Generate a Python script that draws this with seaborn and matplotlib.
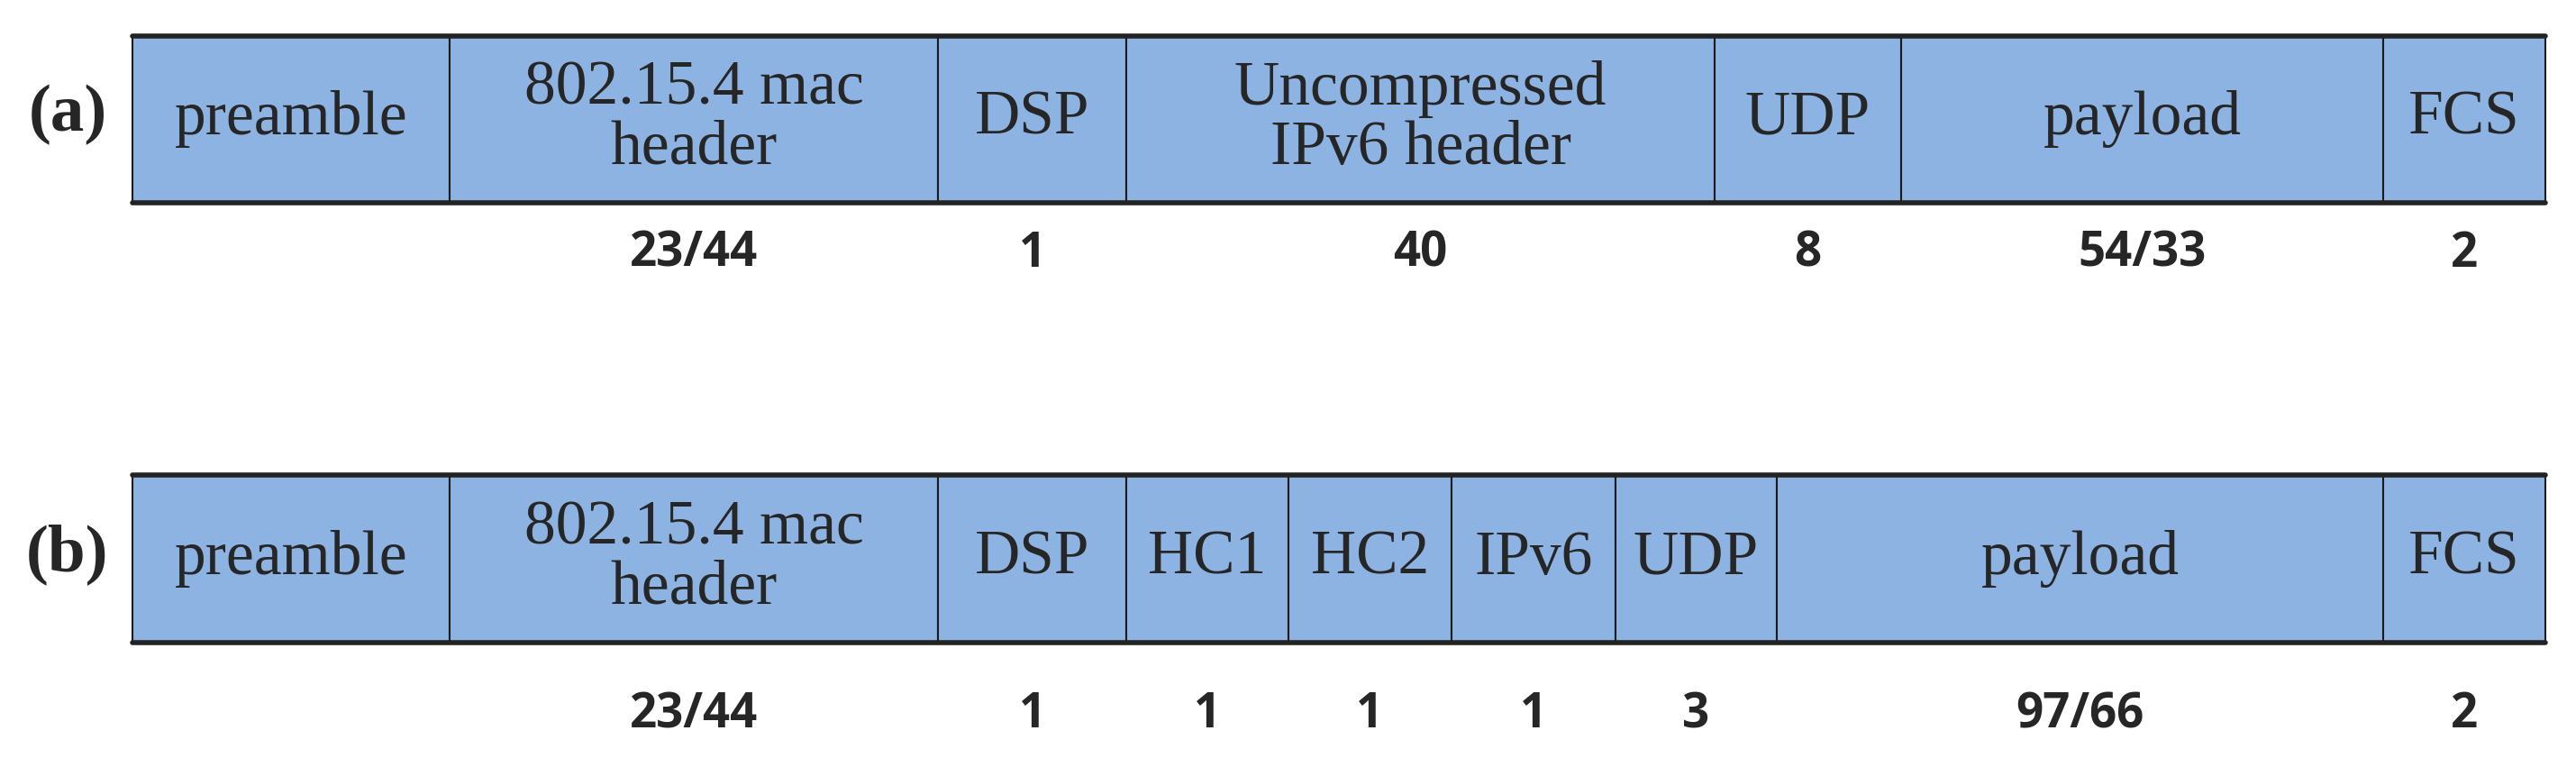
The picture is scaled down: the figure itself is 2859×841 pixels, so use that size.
import matplotlib.pyplot as plt
import seaborn as sns
import numpy as np

# segment names, widths (drawing units) and byte counts
row_a_labels = ["preamble", "802.15.4 mac\nheader", "DSP", "Uncompressed\nIPv6 header", "UDP", "payload", "FCS"]
row_a_widths = [352, 542, 209, 653, 207, 535, 180]
row_a_bytes = ["", "23/44", "1", "40", "8", "54/33", "2"]

row_b_labels = ["preamble", "802.15.4 mac\nheader", "DSP", "HC1", "HC2", "IPv6", "UDP", "payload", "FCS"]
row_b_widths = [352, 542, 209, 180, 181, 182, 179, 673, 180]
row_b_bytes = ["", "23/44", "1", "1", "1", "1", "3", "97/66", "2"]

sns.set_style("white")

fig = plt.figure(figsize=(28.59, 8.41), dpi=100)
ax = fig.add_axes([0, 0, 1, 1])
ax.set_xlim(0, 2859)
ax.set_ylim(841, 0)
ax.axis("off")

FILL = "#8db3e2"
X0 = 147


def draw_row(labels, widths, nums, yc, h, num_y, tag):
    lefts = X0 + np.concatenate([[0], np.cumsum(widths)[:-1]])
    ax.barh(yc, widths, left=lefts, height=h, color=FILL,
            edgecolor="#1a1a1a", linewidth=1.5)
    right = lefts[-1] + widths[-1]
    ax.plot([X0, right], [yc - h / 2, yc - h / 2], color="#222222", lw=4)
    ax.plot([X0, right], [yc + h / 2, yc + h / 2], color="#222222", lw=4)
    for l, w, lab, n in zip(lefts, widths, labels, nums):
        ax.text(l + w / 2, yc, lab, ha="center", va="center",
                family="Liberation Serif", fontsize=50, linespacing=1.05)
        if n:
            ax.text(l + w / 2, num_y, n, ha="center", va="center",
                    family="Open Sans", fontweight="bold", fontsize=38)
    ax.text(75, yc - 5, tag, ha="center", va="center",
            family="Liberation Serif", fontweight="bold", fontsize=54)


draw_row(row_a_labels, row_a_widths, row_a_bytes, 132, 185, 282, "(a)")
draw_row(row_b_labels, row_b_widths, row_b_bytes, 620, 186, 793, "(b)")

fig.savefig("out.png", dpi=100, facecolor="white")
